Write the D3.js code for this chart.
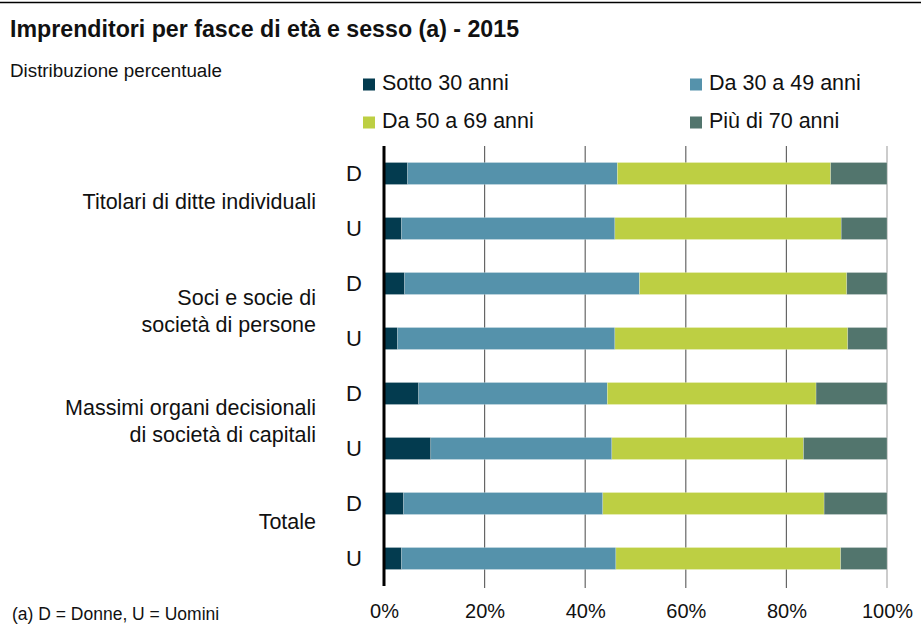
<!DOCTYPE html>
<html>
<head>
<meta charset="utf-8">
<script src="https://cdn.jsdelivr.net/npm/d3@7"></script>
<style>
  html, body { margin: 0; padding: 0; background: #fff; }
  svg { display: block; font-family: "Liberation Sans", Arial, sans-serif; }
</style>
</head>
<body>
<svg id="chart" width="921" height="626"></svg>
<script>
// ---- data ----
const categories = [
  "Titolari di ditte individuali",
  "Soci e socie di società di persone",
  "Massimi organi decisionali di società di capitali",
  "Totale"
];
const categoryLines = [
  ["Titolari di ditte individuali"],
  ["Soci e socie di", "società di persone"],
  ["Massimi organi decisionali", "di società di capitali"],
  ["Totale"]
];
const sexes = ["D", "U"];
const seriesNames = ["Sotto 30 anni", "Da 30 a 49 anni", "Da 50 a 69 anni", "Più di 70 anni"];
// rows: Titolari D, Titolari U, Soci D, Soci U, Massimi D, Massimi U, Totale D, Totale U
const sotto30 = [4.7, 3.5, 4.1, 2.7, 6.9, 9.3, 3.9, 3.5];
const da30a49 = [41.7, 42.4, 46.7, 43.2, 37.5, 36.0, 39.6, 42.6];
const da50a69 = [42.4, 45.0, 41.2, 46.3, 41.5, 38.1, 44.0, 44.7];
const oltre70 = [11.2, 9.1, 8.0, 7.8, 14.1, 16.6, 12.5, 9.2];
const tickValues = [0, 20, 40, 60, 80, 100];
const tickLabels = ["0%", "20%", "40%", "60%", "80%", "100%"];
const titleText = "Imprenditori per fasce di età e sesso (a) - 2015";
const subtitleText = "Distribuzione percentuale";
const noteText = "(a) D = Donne, U = Uomini";

// ---- styles ----
const colors = ["#033b4f", "#5592ab", "#bdcf43", "#52756d"];
const labelDy = [0, 0, 0, -10];

const svg = d3.select("#chart");

// table built from arrays
const rows = [];
categories.forEach((c, ci) => sexes.forEach((s, si) => {
  const i = ci * 2 + si;
  rows.push({ id: i, cat: ci, sex: s,
    s0: sotto30[i], s1: da30a49[i], s2: da50a69[i], s3: oltre70[i] });
}));
const keys = ["s0", "s1", "s2", "s3"];
const stacked = d3.stack().keys(keys)(rows);

const x = d3.scaleLinear().domain([0, 100]).range([384, 887]);
const y = d3.scaleBand().domain(rows.map(r => r.id)).range([146, 586])
  .paddingInner(0.6).paddingOuter(0.3);

// top rule
svg.append("line").attr("x1", 0).attr("x2", 921).attr("y1", 2.5).attr("y2", 2.5)
  .attr("stroke", "#000").attr("stroke-width", 1.5);

// title & subtitle
svg.append("text").attr("x", 10).attr("y", 37).attr("font-size", 23.2)
  .attr("font-weight", "bold").attr("fill", "#111").text(titleText);
svg.append("text").attr("x", 10).attr("y", 77).attr("font-size", 18.8)
  .attr("fill", "#111").text(subtitleText);

// legend
const legendPos = [[363, 90], [690, 90], [363, 128], [690, 128]];
seriesNames.forEach((n, i) => {
  const g = svg.append("g").attr("transform", `translate(${legendPos[i][0]},${legendPos[i][1]})`);
  g.append("rect").attr("x", 0).attr("y", -11.5).attr("width", 12).attr("height", 12).attr("fill", colors[i]);
  g.append("text").attr("x", 19).attr("y", 0).attr("font-size", 21.5).attr("fill", "#111").text(n);
});

// gridlines
const grid = svg.append("g");
grid.selectAll("line").data(tickValues.filter(v => v > 0)).join("line")
  .attr("x1", d => x(d)).attr("x2", d => x(d))
  .attr("y1", 146).attr("y2", 588)
  .attr("stroke", d => d === 100 ? "#aaa" : "#666").attr("stroke-width", 1.2);

// bars
svg.append("g").selectAll("g").data(stacked).join("g")
  .attr("fill", (d, i) => colors[i])
  .selectAll("rect").data(d => d).join("rect")
  .attr("x", d => x(d[0])).attr("width", d => x(d[1]) - x(d[0]))
  .attr("y", d => y(d.data.id)).attr("height", y.bandwidth())
  .attr("stroke", "#ffffff").attr("stroke-opacity", 0.35).attr("stroke-width", 0.6);

// vertical axis line
svg.append("line").attr("x1", 384).attr("x2", 384).attr("y1", 146).attr("y2", 586)
  .attr("stroke", "#000").attr("stroke-width", 3);

// x axis tick labels
const xAxis = d3.axisBottom(x).tickValues(tickValues).tickFormat((d, i) => tickLabels[i]).tickSize(0);
const ax = svg.append("g").attr("transform", "translate(0,602)").call(xAxis);
ax.select(".domain").remove();
ax.selectAll("text").attr("font-size", 20).attr("font-family", "Liberation Sans, Arial, sans-serif")
  .attr("fill", "#111").attr("y", 2).attr("dy", "0.71em");

// sex labels
svg.append("g").selectAll("text").data(rows).join("text")
  .attr("x", 362).attr("y", d => y(d.id) + y.bandwidth() / 2 + 7.5)
  .attr("text-anchor", "end").attr("font-size", 22).attr("fill", "#111")
  .text(d => d.sex);

// category labels
categoryLines.forEach((lines, ci) => {
  const yc = (y(ci * 2) + y(ci * 2 + 1) + y.bandwidth()) / 2 + labelDy[ci];
  const lh = 27.5;
  const t = svg.append("text").attr("text-anchor", "end").attr("font-size", 21.5).attr("fill", "#111");
  lines.forEach((l, li) => {
    t.append("tspan").attr("x", 316)
      .attr("y", yc + 7.5 + (li - (lines.length - 1) / 2) * lh).text(l);
  });
});

// footnote
svg.append("text").attr("x", 12).attr("y", 620).attr("font-size", 17.5)
  .attr("fill", "#111").text(noteText);
</script>
</body>
</html>
